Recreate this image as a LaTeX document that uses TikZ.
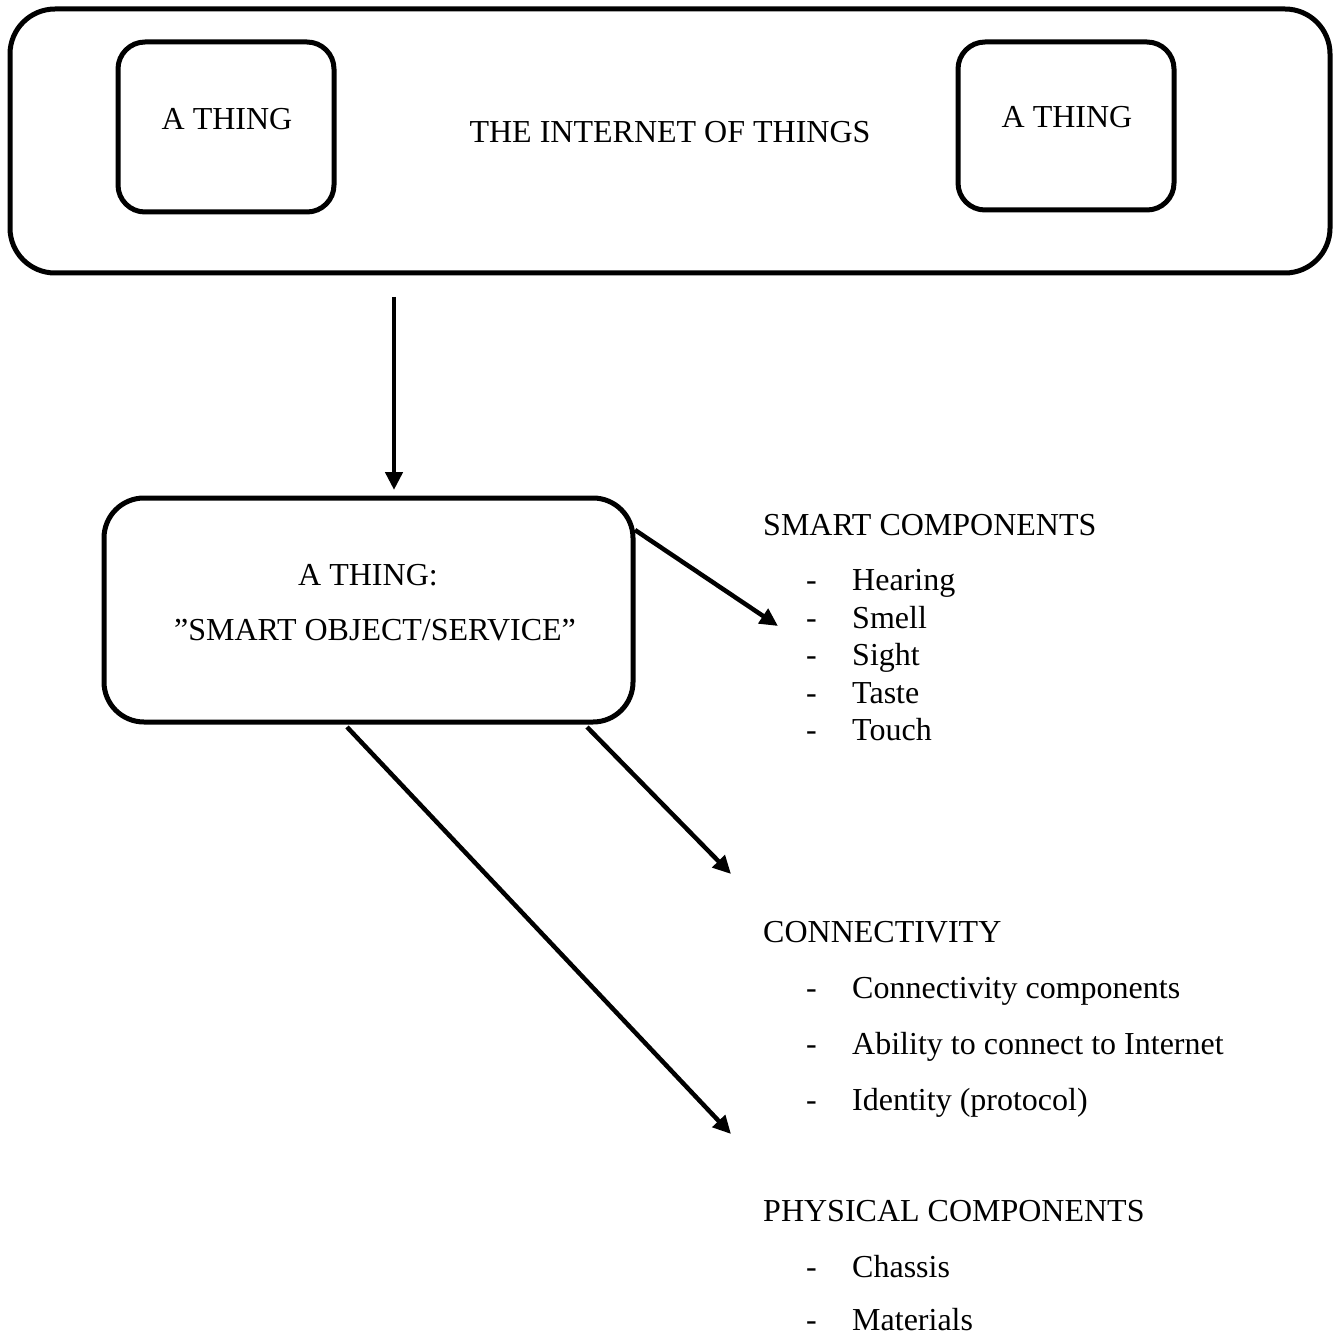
\documentclass[tikz,border=0pt]{standalone}
\usepackage{fontspec}
\setmainfont{Liberation Serif}
\usetikzlibrary{arrows.meta}
\begin{document}
\begin{tikzpicture}[x=1pt,y=-1pt,
  box/.style={draw=black,line width=5pt,rounded corners=#1},
  lbl/.style={font=\fontsize{32}{38}\selectfont,inner sep=0pt,anchor=base},
  itm/.style={font=\fontsize{32}{38}\selectfont,inner sep=0pt,anchor=base west},
  arr/.style={line width=4.5pt,-{Triangle[length=18pt,width=17pt]}}]
\useasboundingbox (0,0) rectangle (1336,1337);
% outer box
\draw[box=45pt] (10,9) rectangle (1330,273);
\node[lbl] (iot) at (670,143) {THE INTERNET OF THINGS};
\draw[box=27pt] (118,42) rectangle (334,212);
\node[lbl] (t1) at (227,130) {A THING};
\draw[box=27pt] (958,42) rectangle (1174,210);
\node[lbl] (t2) at (1067,128) {A THING};
% middle box
\draw[box=40pt] (104,498) rectangle (633,722);
\node[lbl] (m1) at (368,585) {A THING:};
\node[lbl] (m2) at (375,640) {”SMART OBJECT/SERVICE”};
% arrows
\coordinate (a0s) at (394,297); \coordinate (a0e) at (394,490);
\coordinate (a1s) at (635,530); \coordinate (a1e) at (778,626);
\coordinate (a2s) at (587,727); \coordinate (a2e) at (731,874);
\coordinate (a3s) at (347,727); \coordinate (a3e) at (731,1134);
\draw[arr] (a0s) -- (a0e);
\draw[arr] (a1s) -- (a1e);
\draw[arr] (a2s) -- (a2e);
\draw[arr] (a3s) -- (a3e);
% smart components
\node[itm] (h1) at (763,535) {SMART COMPONENTS};
\foreach \t/\y [count=\i] in {Hearing/590,Smell/628,Sight/665,Taste/703,Touch/740}{
  \node[itm] (sd\i) at (806,\y) {-};
  \node[itm] (s\i) at (852,\y) {\t};
}
% connectivity
\node[itm] (h2) at (763,942) {CONNECTIVITY};
\foreach \t/\y [count=\i] in {Connectivity components/998,Ability to connect to Internet/1054,Identity (protocol)/1110}{
  \node[itm] (cd\i) at (806,\y) {-};
  \node[itm] (c\i) at (852,\y) {\t};
}
% physical
\node[itm] (h3) at (763,1221) {PHYSICAL COMPONENTS};
\foreach \t/\y [count=\i] in {Chassis/1277,Materials/1330}{
  \node[itm] (pd\i) at (806,\y) {-};
  \node[itm] (p\i) at (852,\y) {\t};
}
\end{tikzpicture}
\end{document}
